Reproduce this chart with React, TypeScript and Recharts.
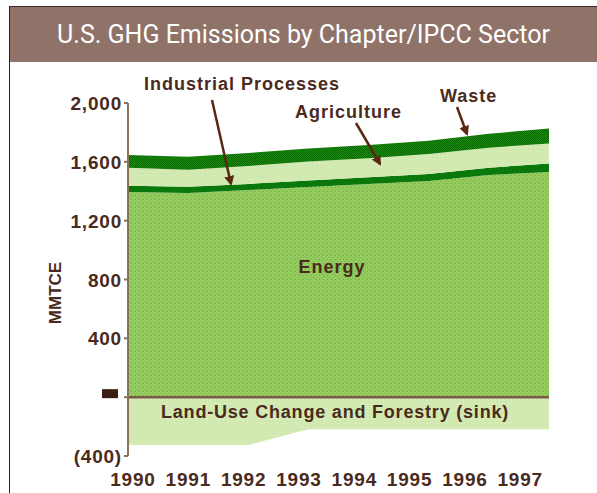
import { AreaChart, Area, Line, XAxis, YAxis, ReferenceLine } from "recharts";

const years = [1990, 1991, 1992, 1993, 1994, 1995, 1996, 1997];
const energy = [1395, 1388, 1408, 1429, 1449, 1469, 1510, 1531];
const industrial = [42, 42, 42, 44, 46, 48, 50, 58];
const agriculture = [122, 116, 122, 129, 129, 136, 136, 136];
const waste = [88, 88, 88, 88, 90, 90, 95, 102];
const landUse = [-326, -326, -326, -218, -218, -218, -218, -218];
const yTicks = [-400, 0, 400, 800, 1200, 1600, 2000];

const data = years.map((year, i) => ({
  year,
  energy: energy[i],
  industrial: industrial[i],
  agriculture: agriculture[i],
  waste: waste[i],
  landUse: landUse[i],
}));

const ink = "#4a2a1c";
const boldFont = "'Liberation Sans', Arial, sans-serif";

function YTick({ x, y, payload }: any) {
  const v = payload.value as number;
  if (v === 0) {
    return <rect x={x - 20} y={y - 8} width={16} height={9} fill="#3a1e12" />;
  }
  const label = v < 0 ? `(${-v})` : v.toLocaleString("en-US");
  return (
    <text
      x={x}
      y={y}
      dy={7}
      textAnchor="end"
      fill={ink}
      fontSize={19}
      fontWeight="bold"
      fontFamily={boldFont}
      letterSpacing={0.8}
    >
      {label}
    </text>
  );
}

function Arrow({ x1, y1, x2, y2 }: { x1: number; y1: number; x2: number; y2: number }) {
  return (
    <line x1={x1} y1={y1} x2={x2} y2={y2} stroke="#5a2812" strokeWidth={2.5} markerEnd="url(#head)" />
  );
}

export default function App() {
  return (
    <div style={{ position: "absolute", left: 0, top: 0, width: 597, height: 493, background: "#fff" }}>
      <div style={{ position: "absolute", left: 9, top: 6, width: 588, height: 1, background: "#3b2b25" }} />
      <div style={{ position: "absolute", left: 9, top: 6, width: 1, height: 487, background: "#222" }} />
      <div
        style={{
          position: "absolute",
          left: 10,
          top: 7,
          width: 587,
          height: 55,
          background: "#8f7369",
          color: "#fff",
          fontFamily: "Roboto, sans-serif",
          fontSize: 25,
          lineHeight: "55px",
          textAlign: "center",
        }}
      >
        U.S. GHG Emissions by Chapter/IPCC Sector
      </div>

      <div style={{ position: "absolute", left: 0, top: 0 }}>
        <AreaChart width={597} height={493} data={data} margin={{ top: 103, right: 48, bottom: 7, left: 58 }}>
          <defs>
            <pattern id="pEnergy" width="4" height="4" patternUnits="userSpaceOnUse">
              <rect width="4" height="4" fill="#94cb5f" />
              <rect x="1" y="1" width="1" height="1" fill="#c0905a" />
              <rect x="3" y="3" width="1" height="1" fill="#6aa845" />
            </pattern>
            <pattern id="pAgri" width="4" height="4" patternUnits="userSpaceOnUse">
              <rect width="4" height="4" fill="#d3ebb2" />
              <rect x="1" y="1" width="1" height="1" fill="#e0c9ae" />
            </pattern>
            <pattern id="pWaste" width="2" height="2" patternUnits="userSpaceOnUse">
              <rect width="2" height="2" fill="#1b8a0c" />
              <rect x="0" y="0" width="1" height="1" fill="#0b6a06" />
              <rect x="1" y="1" width="1" height="1" fill="#0b6a06" />
            </pattern>
          </defs>
          <XAxis dataKey="year" type="number" domain={[1990, 1997]} hide height={0} />
          <XAxis
            xAxisId="lab"
            dataKey="year"
            type="number"
            domain={[1989.91, 1997.52]}
            allowDataOverflow
            ticks={years}
            interval={0}
            axisLine={false}
            tickLine={false}
            tickMargin={11}
            height={30}
            tick={{ fill: ink, fontSize: 19, fontWeight: "bold", fontFamily: boldFont, letterSpacing: 0.8 }}
          />
          <YAxis
            type="number"
            domain={[-400, 2000]}
            ticks={yTicks}
            interval={0}
            width={70}
            tickSize={4}
            tickMargin={2}
            axisLine={{ stroke: "#8a7258", strokeWidth: 2 }}
            tickLine={{ stroke: "#8a7258", strokeWidth: 2 }}
            tick={<YTick />}
          />
          <Area
            dataKey="landUse"
            type="linear"
            fill="url(#pAgri)"
            fillOpacity={1}
            stroke="none"
            isAnimationActive={false}
          />
          <Area dataKey="energy" stackId="s" type="linear" fill="url(#pEnergy)" fillOpacity={1} stroke="none" isAnimationActive={false} />
          <Area dataKey="industrial" stackId="s" type="linear" fill="#0a780a" fillOpacity={1} stroke="none" isAnimationActive={false} />
          <Area dataKey="agriculture" stackId="s" type="linear" fill="url(#pAgri)" fillOpacity={1} stroke="none" isAnimationActive={false} />
          <Area dataKey="waste" stackId="s" type="linear" fill="url(#pWaste)" fillOpacity={1} stroke="none" isAnimationActive={false} />
          <Line xAxisId="lab" dataKey="energy" stroke="none" dot={false} activeDot={false} isAnimationActive={false} />
          <ReferenceLine y={0} stroke="#7b5b45" strokeWidth={2.5} />
        </AreaChart>
      </div>

      <svg width={597} height={493} style={{ position: "absolute", left: 0, top: 0, pointerEvents: "none" }}>
        <defs>
          <marker id="head" viewBox="0 0 10 10" refX="8" refY="5" markerWidth="4" markerHeight="4" orient="auto">
            <path d="M0,0 L10,5 L0,10 z" fill="#5a2812" />
          </marker>
        </defs>
        <g fill={ink} fontFamily={boldFont} fontWeight="bold" fontSize={18}>
          <text x={144} y={90} letterSpacing={1}>Industrial Processes</text>
          <text x={295} y={118} letterSpacing={1}>Agriculture</text>
          <text x={440} y={102} letterSpacing={1}>Waste</text>
          <text x={332} y={273} textAnchor="middle" letterSpacing={1}>Energy</text>
          <text x={161} y={418} letterSpacing={0.8}>Land-Use Change and Forestry (sink)</text>
          <text transform="translate(61,293) rotate(-90)" textAnchor="middle" fontSize={17}>MMTCE</text>
        </g>
        <Arrow x1={212} y1={100} x2={231} y2={184} />
        <Arrow x1={356} y1={123} x2={380} y2={164} />
        <Arrow x1={457} y1={107} x2={467} y2={134} />
      </svg>
    </div>
  );
}
